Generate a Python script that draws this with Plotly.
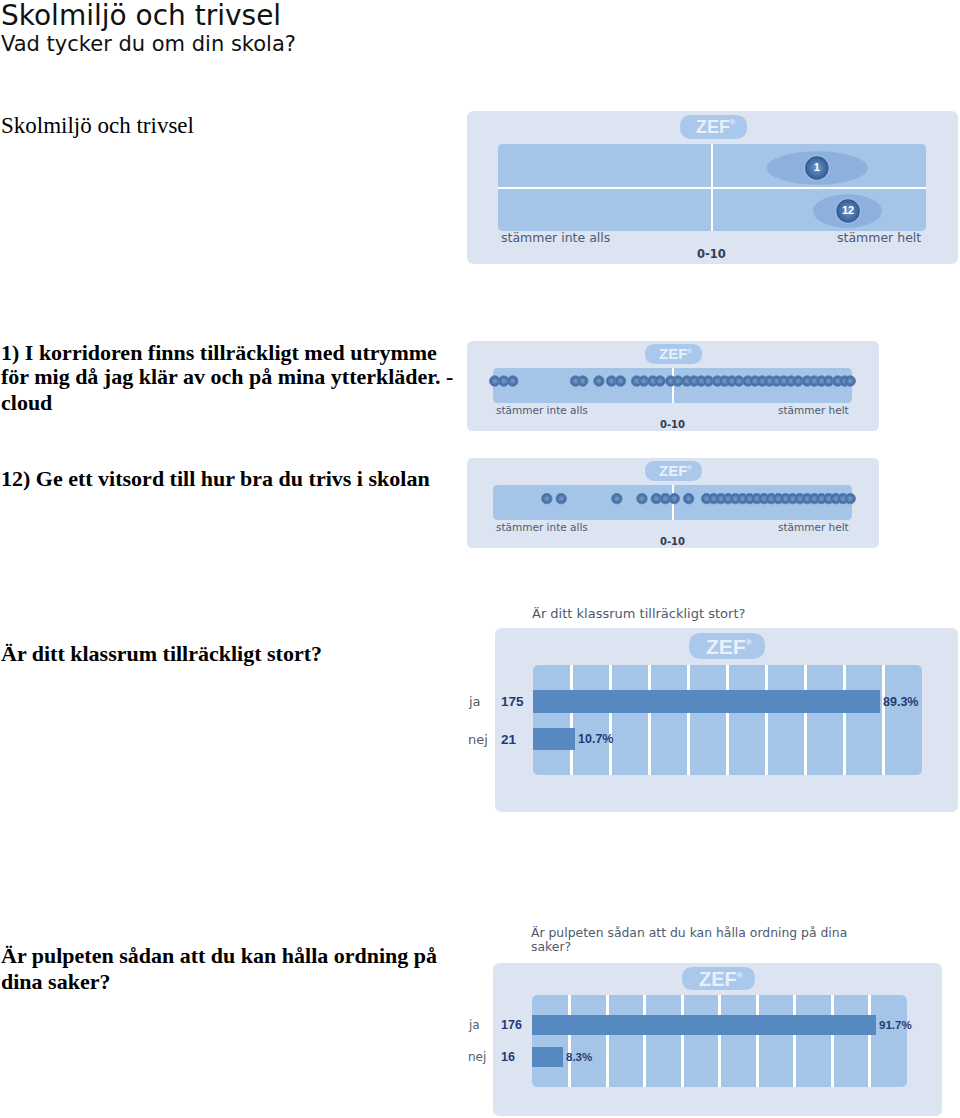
import plotly.graph_objects as go

W, H = 960, 1118

# ---------------- data ----------------
overview_labels = ["1", "12"]
overview_means = [7.45, 8.18]
overview_low = [6.28, 7.36]
overview_high = [8.64, 8.97]

q1_dots = [0.05, 0.3, 0.55, 2.3, 2.5, 2.95, 3.3, 3.55, 4.0, 4.2, 4.45, 4.65, 4.95, 5.15,
           5.4, 5.6, 5.8, 6.0, 6.25, 6.45, 6.65, 6.85, 7.1, 7.3, 7.5, 7.7, 7.9, 8.1, 8.3,
           8.5, 8.75, 8.95, 9.15, 9.35, 9.6, 9.8, 9.95]
q12_dots = [1.5, 1.9, 3.45, 4.15, 4.55, 4.8, 5.05, 5.45, 5.95, 6.15, 6.35, 6.55, 6.75, 6.95,
            7.15, 7.35, 7.55, 7.75, 7.95, 8.15, 8.35, 8.55, 8.75, 8.95, 9.15, 9.35, 9.55,
            9.75, 9.95]

bar_categories = ["ja", "nej"]
klassrum_counts = [175, 21]
klassrum_pct = [89.3, 10.7]
pulpet_counts = [176, 16]
pulpet_pct = [91.7, 8.3]

scale_low = "stämmer inte alls"
scale_high = "stämmer helt"
scale_range = "0-10"

# ---------------- styles ----------------
PANEL = "#dce3f1"
INNER = "#a5c5e8"
PILL = "#a9c8eb"
BAR = "#5589bf"
ELLIPSE = "#8db0dc"
NAVY = "#1f3c78"
LBL = "#4d5b74"
SANS = "DejaVu Sans"
SERIF = "Liberation Serif"
ARIAL = "Liberation Sans"


def fx(x):
    return x / W


def fy(y):
    return 1 - y / H


def rrect(x0, y0, x1, y1, r):
    pts = [
        ("M", [(x0 + r, y0)]), ("L", [(x1 - r, y0)]), ("Q", [(x1, y0), (x1, y0 + r)]),
        ("L", [(x1, y1 - r)]), ("Q", [(x1, y1), (x1 - r, y1)]), ("L", [(x0 + r, y1)]),
        ("Q", [(x0, y1), (x0, y1 - r)]), ("L", [(x0, y0 + r)]), ("Q", [(x0, y0), (x0 + r, y0)]),
    ]
    s = ""
    for cmd, ps in pts:
        s += cmd + " " + " ".join(f"{fx(a):.5f},{fy(b):.5f}" for a, b in ps) + " "
    return s + "Z"


shapes = []
annotations = []


def box(x0, y0, x1, y1, r, color):
    shapes.append(dict(type="path", path=rrect(x0, y0, x1, y1, r), xref="paper", yref="paper",
                       fillcolor=color, line=dict(width=0), layer="below"))


def txt(x, y, s, size, family=SANS, color="#000", xanchor="left", weight="normal",
        xref="paper", yref="paper"):
    annotations.append(dict(
        x=fx(x) if xref == "paper" else x, y=fy(y) if yref == "paper" else y,
        xref=xref, yref=yref, text=s, showarrow=False, xanchor=xanchor, yanchor="middle",
        font=dict(family=family, size=size, color=color, weight=weight)))


def pill(x0, y0, x1, y1, size):
    box(x0, y0, x1, y1, (y1 - y0) / 2, PILL)
    sup = max(6, round(size * 0.4))
    txt((x0 + x1) / 2 + 2, (y0 + y1) / 2,
        f"ZEF<sup><span style='font-size:{sup}px'>®</span></sup>", size, ARIAL, "#e9f0fa",
        xanchor="center", weight="bold")


# ---------------- left column text ----------------
txt(-1, 15, "Skolmiljö och trivsel", 28, SANS, "#111")
txt(-1, 44, "Vad tycker du om din skola?", 21, SANS, "#111")
txt(-1, 125, "Skolmiljö och trivsel", 23, SERIF, "#000")
txt(-1, 352, "1) I korridoren finns tillräckligt med utrymme", 22, SERIF, "#000", weight="bold")
txt(-1, 377, "för mig då jag klär av och på mina ytterkläder. -", 22, SERIF, "#000", weight="bold")
txt(-1, 403, "cloud", 22, SERIF, "#000", weight="bold")
txt(-1, 478, "12) Ge ett vitsord till hur bra du trivs i skolan", 22, SERIF, "#000", weight="bold")
txt(-1, 654, "Är ditt klassrum tillräckligt stort?", 22, SERIF, "#000", weight="bold")
txt(-1, 955, "Är pulpeten sådan att du kan hålla ordning på", 22, SERIF, "#000", weight="bold")
txt(-1, 981, "dina saker?", 22, SERIF, "#000", weight="bold")

# ---------------- panel 1: overview ----------------
box(467, 111, 958, 264, 7, PANEL)
box(498, 144, 926, 231, 5, INNER)
pill(680, 115, 747, 139, 18)
txt(499, 238, scale_low, 12.5, SANS, LBL)
txt(923, 238, scale_high, 12.5, SANS, LBL, xanchor="right")
txt(711, 254, scale_range, 11.5, SANS, "#333c52", xanchor="center", weight="bold")

for i in range(len(overview_labels)):
    shapes.append(dict(type="circle", xref="x", yref="y", x0=overview_low[i], x1=overview_high[i],
                       y0=i - 0.39, y1=i + 0.39, fillcolor=ELLIPSE, line=dict(width=0),
                       layer="below"))

# ---------------- panel 2 / 3: dot clouds ----------------
box(467, 341, 879, 431, 6, PANEL)
box(493, 368, 852, 403, 5, INNER)
pill(645, 344, 702, 364, 15)
txt(494, 410, scale_low, 10.5, SANS, LBL)
txt(851, 410, scale_high, 10.5, SANS, LBL, xanchor="right")
txt(672, 424, scale_range, 10, SANS, "#333c52", xanchor="center", weight="bold")

box(467, 458, 879, 548, 6, PANEL)
box(493, 485, 852, 520, 5, INNER)
pill(645, 461, 702, 481, 15)
txt(494, 527, scale_low, 10.5, SANS, LBL)
txt(851, 527, scale_high, 10.5, SANS, LBL, xanchor="right")
txt(672, 541, scale_range, 10, SANS, "#333c52", xanchor="center", weight="bold")

# ---------------- panel 4 / 5: bars ----------------
txt(530, 613, "Är ditt klassrum tillräckligt stort?", 13, SANS, "#4e5a6e")
box(495, 628, 958, 812, 7, PANEL)
box(533, 665, 922, 775, 6, INNER)
pill(689, 633, 765, 659, 21)

txt(529, 932, "Är pulpeten sådan att du kan hålla ordning på dina", 12.4, SANS, "#4e5a6e")
txt(529, 946, "saker?", 12.4, SANS, "#4e5a6e")
box(493, 963, 942, 1116, 7, PANEL)
box(532, 995, 907, 1087, 6, INNER)
pill(682, 967, 755, 990, 20)

for i, c in enumerate(bar_categories):
    txt(466, i, c, 13, SANS, "#555d6a", yref="y4")
    txt(499, i, f"<b>{klassrum_counts[i]}</b>", 13.5, ARIAL, NAVY, yref="y4")
    txt(466, i, c, 12, SANS, "#555d6a", yref="y5")
    txt(499, i, f"<b>{pulpet_counts[i]}</b>", 12.5, ARIAL, NAVY, yref="y5")

fig = go.Figure()

# panel 1 means
fig.add_trace(go.Scatter(
    x=overview_means, y=list(range(len(overview_means))), mode="markers+text",
    text=[f"<b>{t}</b>" for t in overview_labels], textposition="middle center",
    textfont=dict(family=ARIAL, size=11, color="white"),
    marker=dict(size=25, color="#2a5690", gradient=dict(type="radial", color="#7399c9"),
                line=dict(color="#9bbbe0", width=1.5)),
    xaxis="x", yaxis="y", hoverinfo="skip", cliponaxis=False))

dot_marker = dict(size=10.5, color="#33619a", gradient=dict(type="radial", color="#7b9dca"),
                  line=dict(color="#6087b8", width=1))
fig.add_trace(go.Scatter(x=q1_dots, y=[0] * len(q1_dots), mode="markers", marker=dot_marker,
                         xaxis="x2", yaxis="y2", hoverinfo="skip", cliponaxis=False))
fig.add_trace(go.Scatter(x=q12_dots, y=[0] * len(q12_dots), mode="markers", marker=dot_marker,
                         xaxis="x3", yaxis="y3", hoverinfo="skip", cliponaxis=False))

fig.add_trace(go.Bar(
    x=klassrum_pct, y=list(range(len(bar_categories))), orientation="h", width=0.6,
    marker=dict(color=BAR, line=dict(width=0)), texttemplate="<b>%{x:.1f}%</b>",
    textposition="outside", textfont=dict(family=ARIAL, size=12.5, color=NAVY),
    cliponaxis=False, xaxis="x4", yaxis="y4", hoverinfo="skip"))
fig.add_trace(go.Bar(
    x=pulpet_pct, y=list(range(len(bar_categories))), orientation="h", width=0.63,
    marker=dict(color=BAR, line=dict(width=0)), texttemplate="<b>%{x:.1f}%</b>",
    textposition="outside", textfont=dict(family=ARIAL, size=11.5, color=NAVY),
    cliponaxis=False, xaxis="x5", yaxis="y5", hoverinfo="skip"))


def ax(domain, rng, tickvals=None, gw=2, anchor=None):
    d = dict(domain=domain, range=rng, showticklabels=False, ticks="", zeroline=False,
             showline=False, fixedrange=True)
    if tickvals:
        d.update(tickmode="array", tickvals=tickvals, showgrid=True, gridcolor="white",
                 gridwidth=gw)
    else:
        d.update(showgrid=False)
    if anchor:
        d["anchor"] = anchor
    return d


fig.update_layout(
    width=W, height=H, margin=dict(l=0, r=0, t=0, b=0),
    paper_bgcolor="white", plot_bgcolor="rgba(0,0,0,0)", showlegend=False,
    shapes=shapes, annotations=annotations, bargap=0,
    xaxis=ax([fx(498), fx(926)], [0, 10], [5], 2, "y"),
    yaxis=ax([fy(231), fy(144)], [1.465, -0.558], [0.47], 2, "x"),
    xaxis2=ax([fx(493), fx(852)], [0, 10], [5], 2, "y2"),
    yaxis2=ax([fy(403), fy(368)], [-1.692, 1], None, 2, "x2"),
    xaxis3=ax([fx(493), fx(852)], [0, 10], [5], 2, "y3"),
    yaxis3=ax([fy(520), fy(485)], [-1.571, 1], None, 2, "x3"),
    xaxis4=ax([fx(533), fx(922)], [0, 100], [10, 20, 30, 40, 50, 60, 70, 80, 90], 3, "y4"),
    yaxis4=ax([fy(775), fy(665)], [1.96, -0.973], None, 2, "x4"),
    xaxis5=ax([fx(532), fx(907)], [0, 100], [10, 20, 30, 40, 50, 60, 70, 80, 90], 3, "y5"),
    yaxis5=ax([fy(1087), fy(995)], [1.937, -0.952], None, 2, "x5"),
)

fig.write_html("out.html", config={"displayModeBar": False},
               post_script="document.body.style.margin='0';document.body.style.overflow='hidden';")
